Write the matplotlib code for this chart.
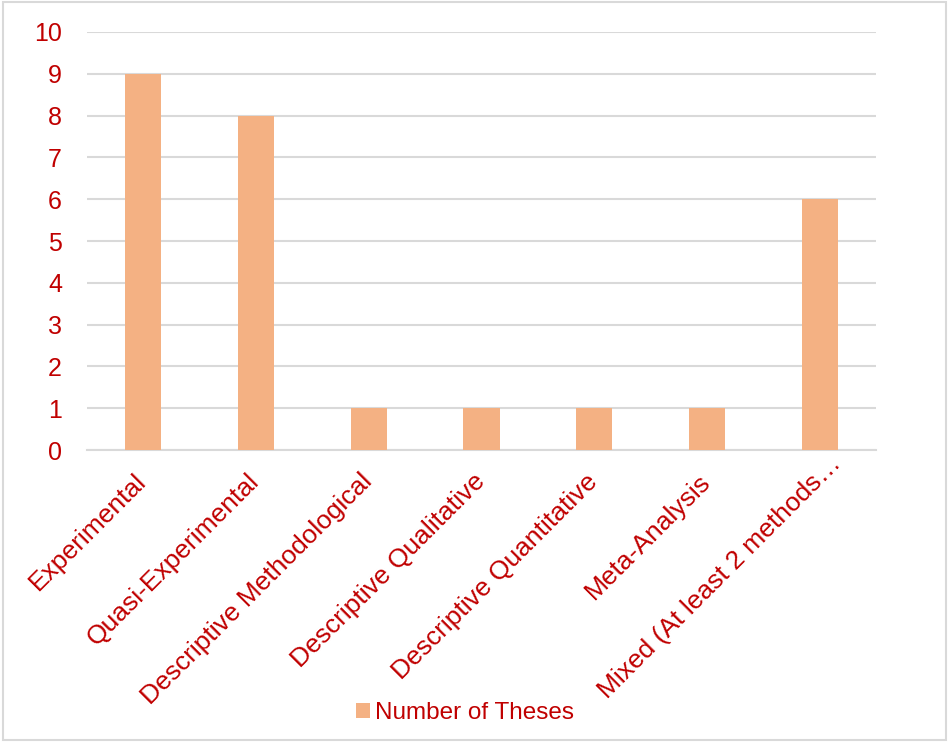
import matplotlib.pyplot as plt
from matplotlib.patches import Rectangle
from matplotlib.transforms import ScaledTranslation

# Research designs and thesis counts
categories = [
    "Experimental",
    "Quasi-Experimental",
    "Descriptive Methodological",
    "Descriptive Qualitative",
    "Descriptive Quantitative",
    "Meta-Analysis",
    "Mixed (At least 2 methods\u2026",
]
counts = [9, 8, 1, 1, 1, 1, 6]
y_ticks = list(range(0, 11))

RED = "#C00000"
BAR = "#F4B183"
GRID = "#D9D9D9"

plt.rcParams["font.family"] = ["Liberation Sans", "DejaVu Sans"]

fig = plt.figure(figsize=(9.49, 7.42), dpi=100)
ax = fig.add_axes([0.0917, 0.3935, 0.8313, 0.5634])

x = range(len(categories))
ax.bar(x, counts, width=0.32, color=BAR, label="Number of Theses", zorder=3)

ax.set_xlim(-0.5, len(categories) - 0.5)
ax.set_ylim(0, 10)
ax.set_yticks(y_ticks)
ax.set_xticks(list(x))
ax.tick_params(axis="both", length=0, labelcolor=RED)
ax.tick_params(axis="y", pad=18, labelsize=18)
ax.tick_params(axis="x", pad=14, labelsize=19)
ax.set_xticklabels(categories, rotation=45, ha="right", va="top",
                   rotation_mode="anchor")

# nudge the slanted labels so their ends sit just right of the bar centres;
# the truncated last label ends in low dots, so it slides further up the slope
shift = ScaledTranslation(-9 / 100, 0, fig.dpi_scale_trans)
tail_shift = ScaledTranslation(18 / 100, 18 / 100, fig.dpi_scale_trans)
labels = ax.get_xticklabels()
for lbl in labels:
    lbl.set_transform(lbl.get_transform() + shift)
labels[-1].set_transform(labels[-1].get_transform() + tail_shift)

ax.grid(axis="y", color=GRID, linewidth=1.5, zorder=0)
for side in ["top", "right", "left"]:
    ax.spines[side].set_visible(False)
ax.spines["bottom"].set_color(GRID)
ax.spines["bottom"].set_linewidth(1.5)

fig.legend(loc="center", bbox_to_anchor=(0.49, 0.039), frameon=False,
           fontsize=17.5, labelcolor=RED, handlelength=0.55, handleheight=0.55,
           handletextpad=0.2)

# thin frame around the whole chart
fig.patches.append(Rectangle((0.003, 0.003), 0.994, 0.994, transform=fig.transFigure,
                             fill=False, edgecolor=GRID, linewidth=1.5))

fig.savefig("out.png", dpi=100)
